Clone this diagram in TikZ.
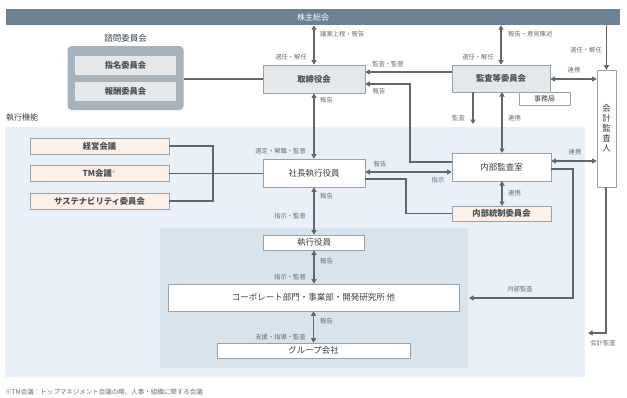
\documentclass[tikz,border=0pt]{standalone}
\usepackage{fontspec}
\setmainfont{Noto Sans CJK JP}
\usetikzlibrary{arrows.meta}
\definecolor{barc}{HTML}{6C8294}
\definecolor{bordc}{HTML}{9AA2A8}
\definecolor{grayf}{HTML}{E4E8EA}
\definecolor{advout}{HTML}{A8B2BA}
\definecolor{peach}{HTML}{FCF0E8}
\definecolor{regA}{HTML}{E9F0F7}
\definecolor{regB}{HTML}{D7E4EE}
\definecolor{linec}{HTML}{62676B}
\definecolor{labc}{HTML}{6A6F73}
\definecolor{txt}{HTML}{3A3F44}
\definecolor{btxt}{HTML}{4A4F54}
\tikzset{
  boxbase/.style={draw=bordc, line width=0.6pt, text=txt, inner sep=0pt, anchor=center},
  gbox/.style={boxbase, fill=grayf, text=btxt, font=\bfseries\fontsize{8.3}{9}\selectfont},
  wbox/.style={boxbase, fill=white, font=\fontsize{8.5}{9}\selectfont},
  pbox/.style={boxbase, fill=peach, text=btxt, font=\bfseries\fontsize{8.3}{9}\selectfont},
  lab/.style={font=\fontsize{6.3}{7}\selectfont, text=labc, inner sep=0pt},
  tip/.tip={Triangle[length=4.5pt,width=5pt]},
  conn/.style={draw=linec, line width=1.25pt},
  arr/.style={conn, -tip},
  darr/.style={conn, tip-tip}
}
\begin{document}
\begin{tikzpicture}[x=1pt,y=-1pt]
\useasboundingbox (0,0) rectangle (627,397);
\fill[white] (0,0) rectangle (627,397);
% regions
\fill[regA] (5,127) rectangle (585,377);
\fill[regB] (160,228) rectangle (468,368);
% top bar
\node[fill=barc, minimum width=614pt, minimum height=16pt, inner sep=0pt, text=white, font=\fontsize{8}{9}\selectfont] (bar) at (313,17) {株主総会};
% advisory
\node[text=txt, font=\fontsize{8.5}{9}\selectfont, inner sep=0pt] (advlab) at (125.5,38) {諮問委員会};
\node[fill=advout, rounded corners=4pt, minimum width=116pt, minimum height=64pt, inner sep=0pt] (adv) at (125.5,78) {};
\node[gbox, draw=none, minimum width=101pt, minimum height=19pt] (shimei) at (125.5,65) {指名委員会};
\node[gbox, draw=none, minimum width=101pt, minimum height=19pt] (houshu) at (125.5,91.5) {報酬委員会};
% board
\node[gbox, minimum width=102pt, minimum height=28pt] (tori) at (314,79) {取締役会};
\node[wbox, minimum width=51pt, minimum height=13pt, font=\fontsize{7}{8}\selectfont] (jimu) at (544.5,99) {事務局};
\node[gbox, minimum width=98pt, minimum height=27pt] (kansa) at (501,78.5) {監査等委員会};
\node[wbox, minimum width=19pt, minimum height=117pt, align=center, font=\fontsize{8.5}{10}\selectfont] (kaikei) at (606.5,128.5) {会\\計\\監\\査\\人};
% execution
\node[text=txt, font=\fontsize{8}{9}\selectfont, inner sep=0pt, anchor=west] (execlab) at (6,118) {執行機能};
\node[pbox, minimum width=139pt, minimum height=16pt] (keiei) at (99.5,146) {経営会議};
\node[pbox, minimum width=139pt, minimum height=16pt] (tm) at (99.5,173.5) {TM会議\textsuperscript{\mdseries\textcolor{labc}{\fontsize{4}{4}\selectfont ※}}};
\node[pbox, minimum width=139pt, minimum height=16pt] (sus) at (99.5,201) {サステナビリティ委員会};
\node[wbox, minimum width=102pt, minimum height=28pt] (ceo) at (314,173) {社長執行役員};
\node[wbox, minimum width=99pt, minimum height=28pt] (naibu) at (501.5,167) {内部監査室};
\node[pbox, minimum width=99pt, minimum height=15pt] (tousei) at (501.5,213.5) {内部統制委員会};
\node[wbox, minimum width=101pt, minimum height=15pt] (shikkou) at (314,242.5) {執行役員};
\node[wbox, minimum width=291pt, minimum height=27pt] (corp) at (313.5,297.5) {コーポレート部門・事業部・開発研究所 他};
\node[wbox, minimum width=193pt, minimum height=15pt] (group) at (313.5,350.5) {グループ会社};
% connectors
\draw[darr] (tori.north |- bar.south) -- (tori.north);
\node[lab, anchor=west] (l1) at (320,34) {議案上程・報告};
\node[lab, anchor=east] (l2) at (307,57) {選任・解任};
\draw[darr] (kansa.north |- bar.south) -- (kansa.north);
\node[lab, anchor=west] (l3) at (508,34) {報告・意見陳述};
\node[lab, anchor=east] (l4) at (494,57) {選任・解任};
\draw[arr] (kaikei.north |- bar.south) -- (kaikei.north);
\node[lab, anchor=east] (l5) at (602,50) {選任・解任};
\draw[conn] (adv.east |- tori.west) -- (tori.west);
\draw[arr] (kansa.west |- 0,72) -- (tori.east |- 0,72);
\node[lab] (l6) at (388,64) {監査・監督};
\coordinate (rep1) at (410,162);
\draw[arr] (naibu.west |- rep1) -- (rep1) -- (rep1 |- 0,84) -- (tori.east |- 0,84);
\node[lab] (l7) at (379,91) {報告};
\draw[darr] (kansa.east |- 0,79) -- (kaikei.west |- 0,79);
\node[lab] (l8) at (574,70) {連携};
\coordinate (kansaEnd) at (473,124);
\draw[arr] (kansa.south -| kansaEnd) -- (kansaEnd);
\node[lab, anchor=east] (l9) at (465,118) {監査};
\draw[darr] (502,153) -- (502,92);
\node[lab, anchor=west] (l10) at (508,118) {連携};
\draw[darr] (tori.south) -- (ceo.north);
\node[lab, anchor=west] (l11) at (320,100) {報告};
\node[lab, anchor=east] (l12) at (306,151) {選定・解職・監督};
\draw[darr] (ceo.east |- 0,172) -- (naibu.west |- 0,172);
\node[lab] (l13) at (380,164) {報告};
\node[lab] (l14) at (438,180) {指示};
\draw[darr] (naibu.east |- 0,161) -- (kaikei.west |- 0,161);
\node[lab] (l15) at (575,152) {連携};
\coordinate (ic) at (406,179);
\draw[conn] (ceo.east |- ic) -- (ic) -- (ic |- tousei.west) -- (tousei.west);
\draw[darr] (502,181) -- (502,206);
\node[lab, anchor=west] (l16) at (508,193) {連携};
\coordinate (ia) at (573,169);
\draw[arr] (naibu.east |- ia) -- (ia) -- (ia |- 0,298) -- (469,298);
\node[lab] (l17) at (520,289) {内部監査};
\coordinate (ka) at (606,333);
\draw[arr] (kaikei.south -| ka) -- (ka) -- (588,333);
\node[lab] (l18) at (603,343) {会計監査};
\coordinate (jn) at (213,174);
\draw[conn] (keiei.east) -- (keiei.east -| jn) -- (sus.east -| jn) -- (sus.east);
\draw[conn] (tm.east) -- (ceo.west |- tm.east);
\draw[darr] (ceo.south) -- (shikkou.north);
\node[lab, anchor=west] (l19) at (320,196) {報告};
\node[lab, anchor=east] (l20) at (306,216) {指示・監督};
\draw[darr] (shikkou.south) -- (shikkou.south |- corp.north);
\node[lab, anchor=west] (l21) at (320,261) {報告};
\node[lab, anchor=east] (l22) at (306,277) {指示・監督};
\draw[darr] (corp.south -| group.north) -- (group.north);
\node[lab, anchor=west] (l23) at (320,321) {報告};
\node[lab, anchor=east] (l24) at (306,337) {支援・指導・監査};
% footnote
\node[lab, anchor=west, font=\fontsize{6.5}{7}\selectfont] (foot) at (5,392) {※TM会議：トップマネジメント会議の略、人事・組織に関する会議};
\end{tikzpicture}
\end{document}
